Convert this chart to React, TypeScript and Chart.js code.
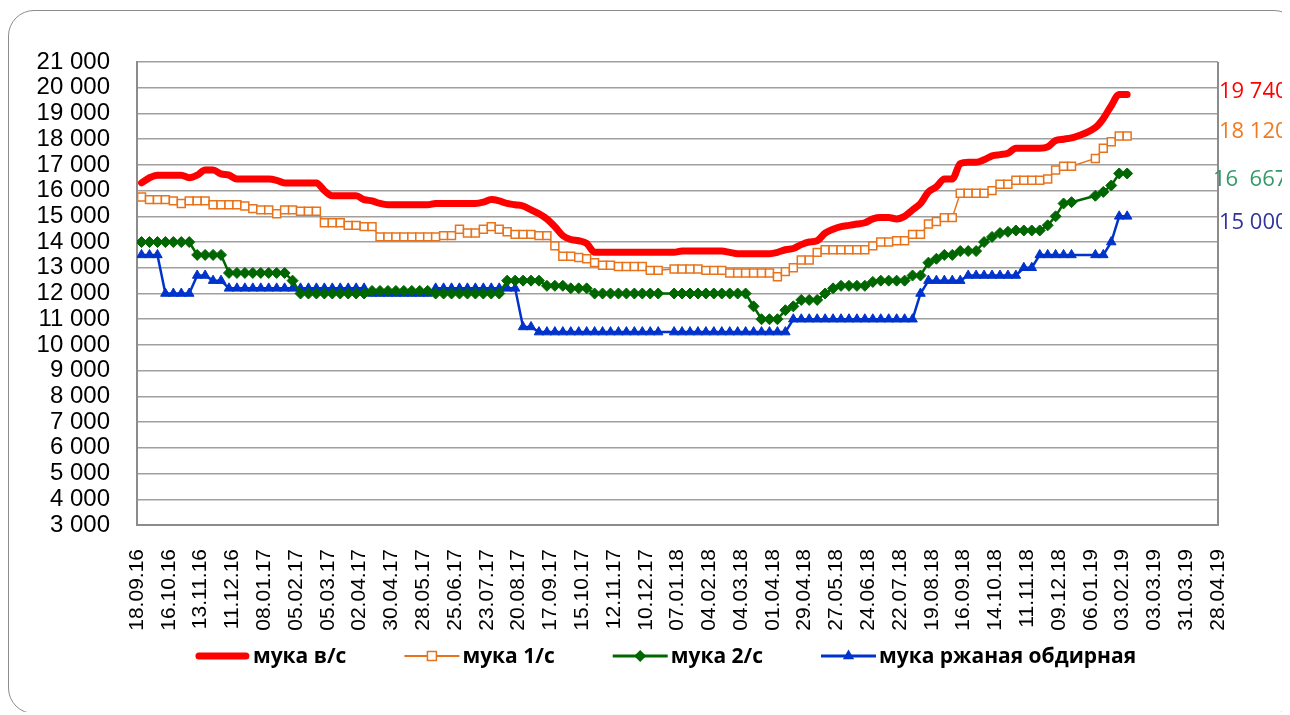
import React, { useEffect, useRef } from 'react';
import { Chart, registerables } from 'chart.js';

Chart.register(...registerables);

// ---------- DATA ----------
// x axis: days counted from 18.09.16, ticks every 4 weeks up to 28.04.19
const axisStartUTC = Date.UTC(2016, 8, 18);
const xTickStepDays = 28;
const xMaxDays = 952;
// weekly observations, first one on 22.09.16 (day 4)
const firstPointDay = 4;
const pointStepDays = 7;

const seriesNames = ['мука в/с', 'мука 1/с', 'мука 2/с', 'мука ржаная обдирная'];

const flourTop: (number | null)[] = [
  16300, 16500, 16600, 16600, 16600, 16600, 16500, 16600, 16800, 16800,
  16650, 16600, 16450, 16450, 16450, 16450, 16450, 16400, 16300, 16300,
  16300, 16300, 16300, 16000, 15800, 15800, 15800, 15800, 15650, 15600,
  15500, 15450, 15450, 15450, 15450, 15450, 15450, 15500, 15500, 15500,
  15500, 15500, 15500, 15550, 15650, 15600, 15500, 15450, 15400, 15250,
  15100, 14900, 14600, 14250, 14100, 14050, 13950, 13600, 13600, 13600,
  13600, 13600, 13600, 13600, 13600, 13600, null, 13600, 13650, 13650,
  13650, 13650, 13650, 13650, 13600, 13550, 13550, 13550, 13550, 13550,
  13600, 13700, 13750, 13900, 14000, 14050, 14350, 14500, 14600, 14650,
  14700, 14750, 14900, 14950, 14950, 14900, 15000, 15250, 15500, 15950,
  16150, 16450, 16450, 17050, 17100, 17100, 17200, 17350, 17400, 17450,
  17650, 17650, 17650, 17650, 17700, 17950, 18000, 18050, null, null,
  18450, 18800, 19300, 19740, 19740,
];

const flourFirst: (number | null)[] = [
  15750, 15650, 15650, 15650, 15600, 15500, 15600, 15600, 15600, 15450,
  15450, 15450, 15450, 15400, 15300, 15250, 15250, 15100, 15250, 15250,
  15200, 15200, 15200, 14750, 14750, 14750, 14650, 14650, 14600, 14600,
  14200, 14200, 14200, 14200, 14200, 14200, 14200, 14200, 14250, 14250,
  14500, 14350, 14350, 14500, 14600, 14500, 14400, 14300, 14300, 14300,
  14250, 14250, 13850, 13450, 13450, 13400, 13350, 13200, 13100, 13100,
  13050, 13050, 13050, 13050, 12900, 12900, null, 12950, 12950, 12950,
  12950, 12900, 12900, 12900, 12800, 12800, 12800, 12800, 12800, 12800,
  12650, 12850, 13000, 13300, 13300, 13600, 13700, 13700, 13700, 13700,
  13700, 13700, 13850, 14000, 14000, 14050, 14050, 14300, 14300, 14700,
  14800, 14950, 14950, 15900, 15900, 15900, 15900, 16000, 16250, 16250,
  16400, 16400, 16400, 16400, 16450, 16800, 16950, 16950, null, null,
  17250, 17650, 17900, 18120, 18120,
];

const flourSecond: (number | null)[] = [
  14000, 14000, 14000, 14000, 14000, 14000, 14000, 13500, 13500, 13500,
  13500, 12800, 12800, 12800, 12800, 12800, 12800, 12800, 12800, 12500,
  12000, 12000, 12000, 12000, 12000, 12000, 12000, 12000, 12000, 12100,
  12100, 12100, 12100, 12100, 12100, 12100, 12100, 12000, 12000, 12000,
  12000, 12000, 12000, 12000, 12000, 12000, 12500, 12500, 12500, 12500,
  12500, 12300, 12300, 12300, 12200, 12200, 12200, 12000, 12000, 12000,
  12000, 12000, 12000, 12000, 12000, 12000, null, 12000, 12000, 12000,
  12000, 12000, 12000, 12000, 12000, 12000, 12000, 11500, 11000, 11000,
  11000, 11350, 11500, 11750, 11750, 11750, 12000, 12200, 12300, 12300,
  12300, 12300, 12450, 12500, 12500, 12500, 12500, 12700, 12700, 13200,
  13350, 13500, 13500, 13650, 13650, 13650, 14000, 14200, 14350, 14400,
  14450, 14450, 14450, 14450, 14650, 15000, 15500, 15550, null, null,
  15800, 15950, 16200, 16667, 16667,
];

const flourRye: (number | null)[] = [
  13500, 13500, 13500, 12000, 12000, 12000, 12000, 12700, 12700, 12500,
  12500, 12200, 12200, 12200, 12200, 12200, 12200, 12200, 12200, 12200,
  12200, 12200, 12200, 12200, 12200, 12200, 12200, 12200, 12200, 12000,
  12000, 12000, 12000, 12000, 12000, 12000, 12000, 12200, 12200, 12200,
  12200, 12200, 12200, 12200, 12200, 12200, 12200, 12200, 10700, 10700,
  10500, 10500, 10500, 10500, 10500, 10500, 10500, 10500, 10500, 10500,
  10500, 10500, 10500, 10500, 10500, 10500, null, 10500, 10500, 10500,
  10500, 10500, 10500, 10500, 10500, 10500, 10500, 10500, 10500, 10500,
  10500, 10500, 11000, 11000, 11000, 11000, 11000, 11000, 11000, 11000,
  11000, 11000, 11000, 11000, 11000, 11000, 11000, 11000, 12000, 12500,
  12500, 12500, 12500, 12500, 12700, 12700, 12700, 12700, 12700, 12700,
  12700, 13000, 13000, 13500, 13500, 13500, 13500, 13500, null, null,
  13500, 13500, 14000, 15000, 15000,
];

const endLabels = ['19 740', '18 120', '16  667', '15 000'];

const yMin = 3000;
const yMax = 21000;
const yStep = 1000;

// ---------- STYLES ----------
const colors = ['#FF0000', '#E8731A', '#006600', '#0033CC'];
const endLabelColors = ['#FF0000', '#F07A22', '#34996A', '#333399'];
const endLabelDy = [-3, -4, 6, 6];
const endLabelDx = [1, 1, -5, 1];

const pad2 = (n: number) => (n < 10 ? '0' + n : String(n));
const fmtDay = (d: number) => {
  const dt = new Date(axisStartUTC + d * 86400000);
  return pad2(dt.getUTCDate()) + '.' + pad2(dt.getUTCMonth() + 1) + '.' + pad2(dt.getUTCFullYear() % 100);
};
const fmtNum = (v: number) => String(v).replace(/\B(?=(\d{3})+(?!\d))/g, ' ');
const toPoints = (arr: (number | null)[]) =>
  arr.map((v, i) => ({ x: firstPointDay + pointStepDays * i, y: v }));

function drawMarker(ctx: CanvasRenderingContext2D, k: number, x: number, y: number) {
  ctx.save();
  if (k === 1) {
    ctx.fillStyle = '#ffffff';
    ctx.strokeStyle = colors[1];
    ctx.lineWidth = 1.5;
    ctx.fillRect(x - 4.5, y - 4.5, 9, 9);
    ctx.strokeRect(x - 4.5, y - 4.5, 9, 9);
  } else if (k === 2) {
    ctx.fillStyle = colors[2];
    ctx.beginPath();
    ctx.moveTo(x - 6, y);
    ctx.lineTo(x, y - 6);
    ctx.lineTo(x + 6, y);
    ctx.lineTo(x, y + 6);
    ctx.closePath();
    ctx.fill();
  } else if (k === 3) {
    ctx.fillStyle = colors[3];
    const r = 6.5;
    ctx.beginPath();
    ctx.moveTo(x, y - r);
    ctx.lineTo(x + r * 0.866, y + r * 0.5);
    ctx.lineTo(x - r * 0.866, y + r * 0.5);
    ctx.closePath();
    ctx.fill();
  }
  ctx.restore();
}

const plotFramePlugin = {
  id: 'plotFrame',
  beforeDatasetsDraw(chart: any) {
    const { ctx, chartArea } = chart;
    ctx.save();
    ctx.strokeStyle = '#8c8c8c';
    ctx.lineWidth = 2;
    ctx.beginPath();
    ctx.moveTo(chartArea.right, chartArea.top);
    ctx.lineTo(chartArea.right, chartArea.bottom);
    ctx.stroke();
    ctx.restore();
  },
};

const legendPlugin = {
  id: 'lineLegend',
  afterDraw(chart: any) {
    const { ctx, chartArea } = chart;
    ctx.save();
    ctx.font = 'bold 21px "Open Sans"';
    ctx.textBaseline = 'middle';
    ctx.textAlign = 'left';
    const sample = 55;
    const gapText = 3;
    const gapItem = 58;
    const widths = seriesNames.map((n) => ctx.measureText(n).width);
    const total = widths.reduce((a, w) => a + sample + gapText + w, 0) + gapItem * (seriesNames.length - 1);
    const centerX = (chartArea.left + chartArea.right) / 2 - 12;
    const y = chartArea.bottom + 131;
    let x = centerX - total / 2;
    seriesNames.forEach((name, k) => {
      ctx.save();
      ctx.strokeStyle = colors[k];
      ctx.lineWidth = k === 0 ? 7 : k === 1 ? 2 : 3;
      ctx.lineCap = k === 0 ? 'round' : 'butt';
      ctx.beginPath();
      ctx.moveTo(x + (k === 0 ? 4 : 0), y);
      ctx.lineTo(x + sample - (k === 0 ? 4 : 0), y);
      ctx.stroke();
      ctx.restore();
      drawMarker(ctx, k, x + sample / 2, y);
      ctx.fillStyle = '#000';
      ctx.fillText(name, x + sample + gapText, y + 1);
      x += sample + gapText + widths[k] + gapItem;
    });
    ctx.restore();
  },
};

const endLabelPlugin = {
  id: 'endLabels',
  afterDraw(chart: any) {
    const { ctx, chartArea, scales } = chart;
    ctx.save();
    ctx.font = '22px "Open Sans"';
    ctx.textBaseline = 'middle';
    ctx.textAlign = 'left';
    const all = [flourTop, flourFirst, flourSecond, flourRye];
    all.forEach((arr, k) => {
      let last: number | null = null;
      for (let i = arr.length - 1; i >= 0; i--) {
        if (arr[i] != null) { last = arr[i]; break; }
      }
      if (last == null) return;
      const y = scales.y.getPixelForValue(last) + endLabelDy[k];
      ctx.fillStyle = endLabelColors[k];
      ctx.fillText(endLabels[k], chartArea.right + endLabelDx[k], y);
    });
    ctx.restore();
  },
};

export default function App() {
  const ref = useRef<HTMLCanvasElement>(null);

  useEffect(() => {
    const canvas = ref.current;
    if (!canvas) return;
    const chart = new Chart(canvas, {
      type: 'line',
      data: {
        datasets: [
          {
            label: seriesNames[0],
            data: toPoints(flourTop),
            borderColor: colors[0],
            backgroundColor: colors[0],
            borderWidth: 7,
            pointRadius: 0,
            cubicInterpolationMode: 'monotone',
            borderCapStyle: 'round',
            borderJoinStyle: 'round',
            spanGaps: true,
          },
          {
            label: seriesNames[1],
            data: toPoints(flourFirst),
            borderColor: colors[1],
            backgroundColor: '#ffffff',
            borderWidth: 1.5,
            pointStyle: 'rect',
            pointRadius: 5.6,
            pointBorderWidth: 1.5,
            pointBackgroundColor: '#ffffff',
            pointBorderColor: colors[1],
            spanGaps: true,
          },
          {
            label: seriesNames[2],
            data: toPoints(flourSecond),
            borderColor: colors[2],
            backgroundColor: colors[2],
            borderWidth: 2.5,
            pointStyle: 'rectRot',
            pointRadius: 5.5,
            pointBorderWidth: 1,
            pointBackgroundColor: colors[2],
            pointBorderColor: colors[2],
            spanGaps: true,
          },
          {
            label: seriesNames[3],
            data: toPoints(flourRye),
            borderColor: colors[3],
            backgroundColor: colors[3],
            borderWidth: 2.5,
            pointStyle: 'triangle',
            pointRadius: 5.5,
            pointBorderWidth: 1,
            pointBackgroundColor: colors[3],
            pointBorderColor: colors[3],
            spanGaps: true,
          },
        ] as any,
      },
      options: {
        responsive: false,
        animation: false,
        devicePixelRatio: 1,
        events: [],
        layout: { padding: { left: 0, top: 52, right: 72, bottom: 69 } },
        plugins: {
          legend: { display: false },
          tooltip: { enabled: false },
        },
        scales: {
          x: {
            type: 'linear',
            min: 0,
            max: xMaxDays,
            afterFit: (s: any) => { s.height = 120; },
            grid: { display: false, drawTicks: false },
            border: { display: true, color: '#8c8c8c', width: 2 },
            ticks: {
              stepSize: xTickStepDays,
              autoSkip: false,
              maxRotation: 90,
              minRotation: 90,
              padding: 24,
              color: '#000',
              font: { family: '"Liberation Sans", Arial, sans-serif', size: 21 },
              callback: (v: any) => fmtDay(Number(v)),
            },
          },
          y: {
            type: 'linear',
            min: yMin,
            max: yMax,
            afterFit: (s: any) => { s.width = 129; },
            grid: { color: '#a0a0a0', lineWidth: 1.5, drawTicks: false },
            border: { display: true, color: '#8c8c8c', width: 2 },
            ticks: {
              stepSize: yStep,
              autoSkip: false,
              padding: 27,
              color: '#000',
              font: { family: '"Liberation Sans", Arial, sans-serif', size: 24 },
              callback: (v: any) => fmtNum(Number(v)),
            },
          },
        },
      } as any,
      plugins: [plotFramePlugin, legendPlugin, endLabelPlugin],
    });
    return () => chart.destroy();
  }, []);

  return (
    <div style={{ position: 'relative', top: 2, width: 1282, height: 704, overflow: 'hidden' }}>
      <canvas ref={ref} width={1282} height={704} style={{ position: 'absolute', left: 0, top: 0, width: 1282, height: 704 }} />
      <div
        style={{
          position: 'absolute',
          left: 0,
          top: 0,
          width: 1292,
          height: 704,
          border: '1.5px solid #8c8c8c',
          borderRadius: 26,
          boxSizing: 'border-box',
          pointerEvents: 'none',
        }}
      />
    </div>
  );
}
